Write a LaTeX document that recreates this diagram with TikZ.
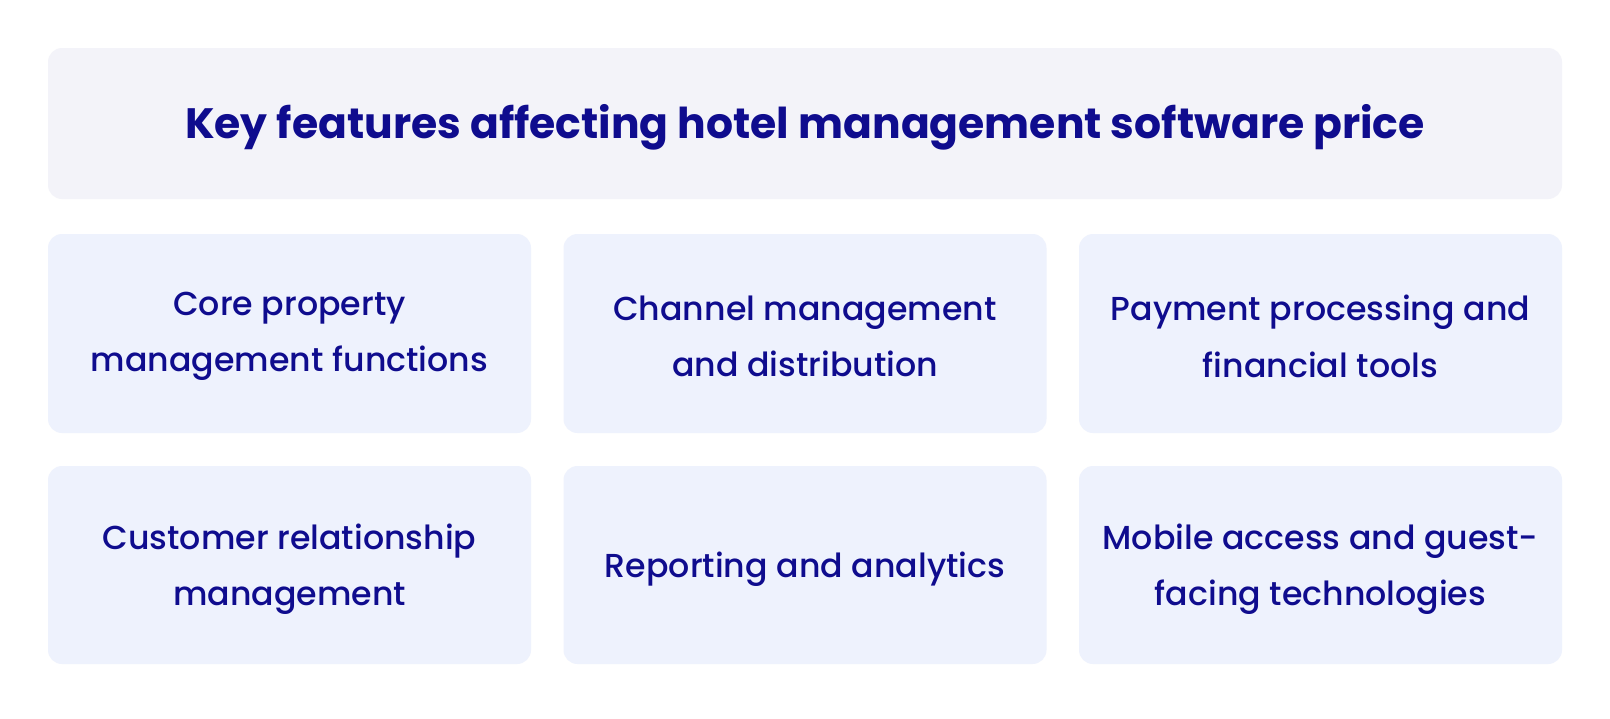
\documentclass[tikz,border=0pt]{standalone}
\usepackage{fontspec}
\setmainfont{Poppins}[UprightFont=* Medium, BoldFont=* Bold]
\definecolor{navy}{HTML}{0F0C8E}
\definecolor{headbg}{HTML}{F3F3F9}
\definecolor{cellbg}{HTML}{EEF2FD}
\begin{document}
\begin{tikzpicture}[x=1pt,y=-1pt,
  cell/.style={fill=cellbg, rounded corners=14pt, draw=none},
  celltext/.style={text=navy, align=center, font=\fontsize{33.2}{56.5}\selectfont},
]
\useasboundingbox[fill=white] (0,0) rectangle (1610,718);
\fill[headbg, rounded corners=14pt] (48,48) rectangle (1562,199);
\node[text=navy, font=\fontsize{42.5}{48}\selectfont\bfseries] (title) at (805,127) {Key features affecting hotel management software price};
\fill[cell] (48,234) rectangle (531,433);
\fill[cell] (563.5,234) rectangle (1046.5,433);
\fill[cell] (1079,234) rectangle (1562,433);
\fill[cell] (48,466) rectangle (531,664);
\fill[cell] (563.5,466) rectangle (1046.5,664);
\fill[cell] (1079,466) rectangle (1562,664);
\node[celltext] (c1) at (289.5,336.5) {Core property\\management functions};
\node[celltext] (c2) at (805,336.5) {Channel management\\and distribution};
\node[celltext] (c3) at (1320.5,336.5) {Payment processing and\\financial tools};
\node[celltext] (c4) at (289.5,569) {Customer relationship\\management};
\node[celltext] (c5) at (805,569) {Reporting and analytics};
\node[celltext] (c6) at (1320.5,569) {Mobile access and guest-\\facing technologies};
\end{tikzpicture}
\end{document}
